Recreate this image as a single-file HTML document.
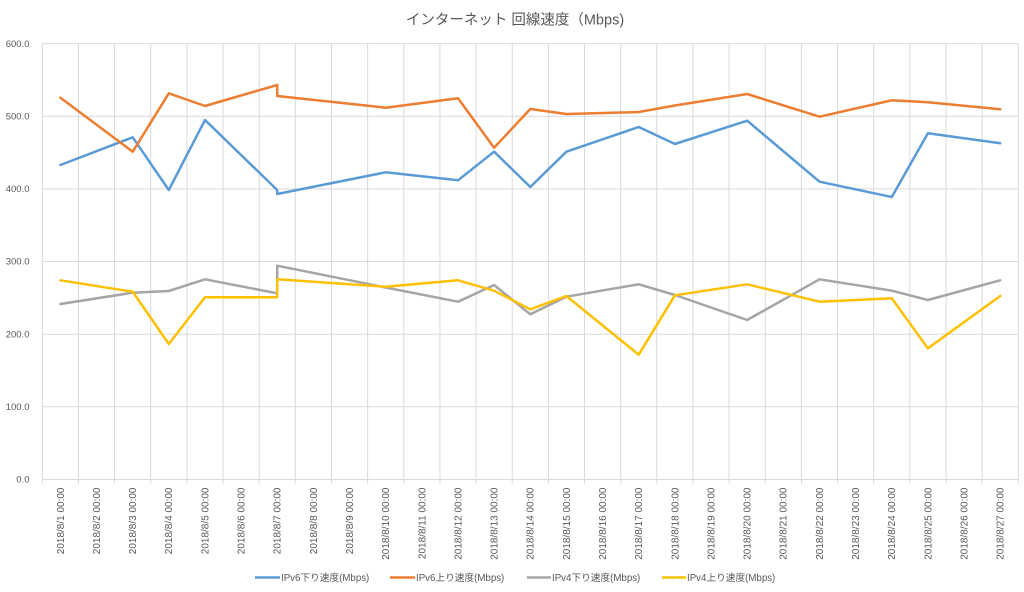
<!DOCTYPE html>
<html>
<head>
<meta charset="utf-8">
<style>
  html,body{margin:0;padding:0;background:#fff;}
  svg{display:block;}
  text{font-family:"Liberation Sans","Noto Sans CJK JP",sans-serif;fill:#595959;}
</style>
</head>
<body>
<svg width="1024" height="592" viewBox="0 0 1024 592" xmlns="http://www.w3.org/2000/svg">
  <rect x="0" y="0" width="1024" height="592" fill="#fff"/>
  <!-- title -->
  <text x="515" y="24.5" font-size="14.5" text-anchor="middle">インターネット 回線速度（Mbps)</text>

  <!-- horizontal gridlines -->
  <g stroke="#d9d9d9" stroke-width="1">
    <line x1="42.3" y1="43.6" x2="1018.3" y2="43.6"/>
    <line x1="42.3" y1="116.2" x2="1018.3" y2="116.2"/>
    <line x1="42.3" y1="188.9" x2="1018.3" y2="188.9"/>
    <line x1="42.3" y1="261.5" x2="1018.3" y2="261.5"/>
    <line x1="42.3" y1="334.2" x2="1018.3" y2="334.2"/>
    <line x1="42.3" y1="406.8" x2="1018.3" y2="406.8"/>
    <line x1="42.3" y1="479.5" x2="1018.3" y2="479.5"/>
  </g>
  <!-- vertical gridlines -->
  <g stroke="#d9d9d9" stroke-width="1" id="vg"></g>

  <!-- y labels -->
  <g font-size="9.5" text-anchor="end">
    <text x="29.5" y="46.8">600.0</text>
    <text x="29.5" y="119.4">500.0</text>
    <text x="29.5" y="192.1">400.0</text>
    <text x="29.5" y="264.7">300.0</text>
    <text x="29.5" y="337.4">200.0</text>
    <text x="29.5" y="410">100.0</text>
    <text x="29.5" y="482.7">0.0</text>
  </g>

  <!-- x labels -->
  <g font-size="10" text-anchor="end" id="xl"></g>

  <!-- series -->
  <g fill="none" stroke-width="2.5" stroke-linejoin="round" stroke-linecap="round">
    <polyline stroke="#5b9bd5" points="60.4,165 132.7,137.3 168.8,190 205,120 277.2,190 277.2,194 385.7,172.3 458,180.3 494.1,151.7 530.3,187 566.4,151.7 638.7,127 674.9,144 747.2,120.7 819.5,181.7 891.8,197 927.9,133.3 1000.2,143.3"/>
    <polyline stroke="#ed7d31" points="60.4,97.7 132.7,151.7 168.8,93.3 205,106 277.2,85 277.2,96 385.7,107.7 458,98.3 494.1,147.7 530.3,109 566.4,114 638.7,112 674.9,105.5 747.2,94 819.5,116.7 891.8,100.3 927.9,102.3 1000.2,109.3"/>
    <polyline stroke="#a5a5a5" points="60.4,304 132.7,292.7 168.8,291 205,279.3 277.2,293.3 277.2,265.7 385.7,287.5 458,301.7 494.1,285 530.3,314.3 566.4,296.7 638.7,284.3 674.9,295 747.2,320 819.5,279.3 891.8,290.7 927.9,300 1000.2,280.3"/>
    <polyline stroke="#ffc000" points="60.4,280.3 132.7,291.7 168.8,344 205,297.3 277.2,297.3 277.2,279.3 385.7,286.7 458,280.3 494.1,290.7 530.3,309.3 566.4,296 638.7,354.7 674.9,295.3 747.2,284.3 819.5,301.7 891.8,298.3 927.9,348.3 1000.2,296"/>
  </g>

  <!-- legend -->
  <g stroke-width="2.5">
    <line x1="255" y1="577.5" x2="280" y2="577.5" stroke="#5b9bd5"/>
    <line x1="390" y1="577.5" x2="415" y2="577.5" stroke="#ed7d31"/>
    <line x1="527" y1="577.5" x2="551" y2="577.5" stroke="#a5a5a5"/>
    <line x1="662" y1="577.5" x2="686" y2="577.5" stroke="#ffc000"/>
  </g>
  <g font-size="9.7">
    <text x="281" y="581">IPv6下り速度(Mbps)</text>
    <text x="416" y="581">IPv6上り速度(Mbps)</text>
    <text x="552" y="581">IPv4下り速度(Mbps)</text>
    <text x="687" y="581">IPv4上り速度(Mbps)</text>
  </g>
</svg>
<script>
(function(){
  var ns="http://www.w3.org/2000/svg";
  var vg=document.getElementById("vg");
  var xl=document.getElementById("xl");
  var left=42.3, step=36.148;
  for(var k=0;k<=27;k++){
    var x=left+step*k;
    var l=document.createElementNS(ns,"line");
    l.setAttribute("x1",x);l.setAttribute("x2",x);
    l.setAttribute("y1",43.6);l.setAttribute("y2",483.5);
    vg.appendChild(l);
  }
  for(var d=1;d<=27;d++){
    var cx=left+step*(d-0.5)+3.4;
    var t=document.createElementNS(ns,"text");
    t.setAttribute("transform","translate("+cx.toFixed(1)+",487.5) rotate(-90)");
    t.setAttribute("x","0");t.setAttribute("y","0");
    t.textContent="2018/8/"+d+" 00:00";
    xl.appendChild(t);
  }
})();
</script>
</body>
</html>
